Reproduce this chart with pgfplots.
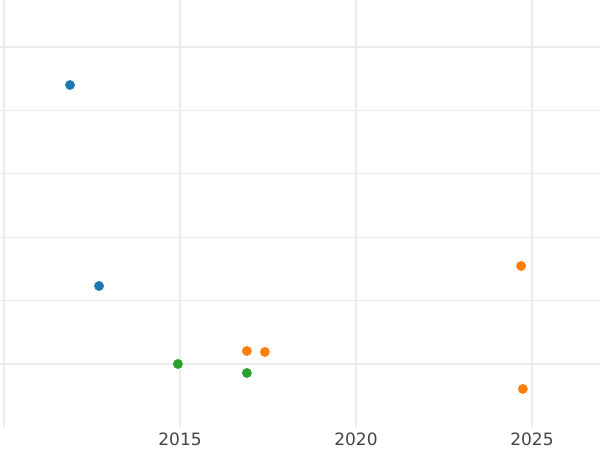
\documentclass[border=0pt]{standalone}
\usepackage{pgfplots}
\pgfplotsset{compat=1.18}
\usepackage{fontspec}
\setmainfont{DejaVu Sans}
\definecolor{cblue}{HTML}{1F77B4}
\definecolor{corange}{HTML}{FF7F0E}
\definecolor{cgreen}{HTML}{2CA02C}
\definecolor{gridc}{HTML}{EBEBEB}
\definecolor{tickc}{HTML}{444444}
\begin{document}
\begin{tikzpicture}
\begin{axis}[
  at={(0,0)}, anchor=south west,
  scale only axis,
  width=600pt, height=427pt,
  xmin=2009.886, xmax=2026.932,
  ymin=-0.994, ymax=5.741,
  xtick={2010,2015,2020,2025},
  xticklabels={,2015,2020,2025},
  ytick={0,1,2,3,4,5},
  yticklabels={},
  grid=major,
  major grid style={draw=gridc, line width=1.3pt},
  axis line style={draw=none},
  major tick length=0pt,
  tick style={draw=none},
  xticklabel style={font=\fontsize{17}{20}\selectfont, text=tickc, yshift=-2.5pt},
  /pgf/number format/assume math mode=true,
  clip=false,
]
\addplot[only marks, mark=*, mark size=4.7pt, color=cblue, mark options={draw=none, fill=cblue}] coordinates {(2011.875,4.40) (2012.70,1.23)};
\addplot[only marks, mark=*, mark size=4.7pt, color=corange, mark options={draw=none, fill=corange}] coordinates {(2016.90,0.205) (2017.41,0.19) (2024.69,1.546) (2024.74,-0.394)};
\addplot[only marks, mark=*, mark size=4.7pt, color=cgreen, mark options={draw=none, fill=cgreen}] coordinates {(2014.94,0.0) (2016.90,-0.142)};
\end{axis}
\pgfresetboundingbox
\path[use as bounding box] (0,-23pt) rectangle (600pt,427pt);
\end{tikzpicture}
\end{document}
